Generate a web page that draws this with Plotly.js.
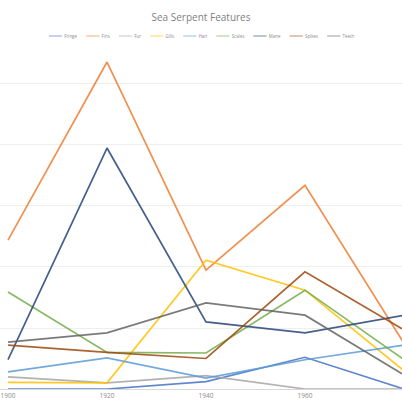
<!DOCTYPE html>
<html>
<head>
<meta charset="utf-8">
<script src="https://cdn.plot.ly/plotly-3.0.1.min.js"></script>
<style>html,body{margin:0;padding:0;background:#fff;}#chart{width:402px;height:406px;}</style>
</head>
<body>
<div id="chart"></div>
<script>
const categories = ["1900", "1920", "1940", "1960", "1980"];
const seriesNames = ["Fringe", "Fins", "Fur", "Gills", "Hair", "Scales", "Mane", "Spikes", "Teeth"];
const seriesColors = ["#4472C4", "#ED7D31", "#A5A5A5", "#FFC000", "#5B9BD5", "#70AD47", "#264478", "#9E480E", "#636363"];
const fringe = [0.00, 0.00, 0.12, 0.52, 0.00];
const fins   = [2.44, 5.36, 1.95, 3.34, 0.75];
const fur    = [0.20, 0.10, 0.22, 0.00, 0.00];
const gills  = [0.11, 0.10, 2.11, 1.62, 0.30];
const hair   = [0.28, 0.51, 0.18, 0.48, 0.72];
const scales = [1.59, 0.60, 0.59, 1.62, 0.48];
const mane   = [0.48, 3.95, 1.10, 0.92, 1.21];
const spikes = [0.72, 0.60, 0.50, 1.92, 0.97];
const teeth  = [0.77, 0.92, 1.41, 1.21, 0.23];
const seriesValues = [fringe, fins, fur, gills, hair, scales, mane, spikes, teeth];

const traces = seriesNames.map((n, i) => ({
  type: "scatter", mode: "lines", name: n,
  x: categories, y: seriesValues[i],
  line: {color: seriesColors[i], width: 1.7},
  opacity: 0.85
}));

const layout = {
  width: 402, height: 406,
  margin: {l: 0, r: 0, t: 50, b: 17},
  paper_bgcolor: "#fff", plot_bgcolor: "#fff",
  title: {text: "Sea Serpent Features", x: 0.5, xanchor: "center", y: 0.956, yanchor: "middle",
          font: {family: "Open Sans", size: 10, color: "#7f7f7f"}},
  showlegend: true,
  legend: {orientation: "h", x: 0.5, xanchor: "center", y: 1.041, yanchor: "middle",
           font: {family: "Open Sans", size: 10, color: "#8c8c8c"}, itemwidth: 30, traceorder: "normal",
           bgcolor: "rgba(0,0,0,0)"},
  xaxis: {type: "category", range: [-0.081, 3.98], showgrid: false, zeroline: false,
          showline: true, linecolor: "#d9d9d9", linewidth: 1, ticks: "",
          tickfont: {family: "Open Sans", size: 6.5, color: "#8c8c8c"}, fixedrange: true},
  yaxis: {range: [0, 5.557], dtick: 1, showgrid: true, gridcolor: "#eeeeee", gridwidth: 1,
          zeroline: false, showticklabels: false, fixedrange: true}
};

Plotly.newPlot("chart", traces, layout, {displayModeBar: false, staticPlot: true}).then(gd => {
  const lg = gd.querySelector("g.legend");
  if (!lg) return;
  lg.querySelectorAll("[clip-path]").forEach(el => el.removeAttribute("clip-path"));
  const bg = lg.querySelector("rect.bg");
  if (bg) bg.style.display = "none";
  const items = Array.from(lg.querySelectorAll("g.traces"));
  const gap = 13;
  let x = 0;
  items.forEach(it => {
    it.setAttribute("transform", `translate(${x},0)`);
    const b = it.getBBox();
    x += b.x + b.width + gap;
  });
  const s = 0.44;
  const bb = lg.getBBox();
  const w = bb.width * s, h = bb.height * s;
  const tx = (402 - w) / 2 - bb.x * s;
  const ty = 36 - h / 2 - bb.y * s;
  lg.setAttribute("transform", `translate(${tx},${ty}) scale(${s})`);
});
</script>
</body>
</html>
